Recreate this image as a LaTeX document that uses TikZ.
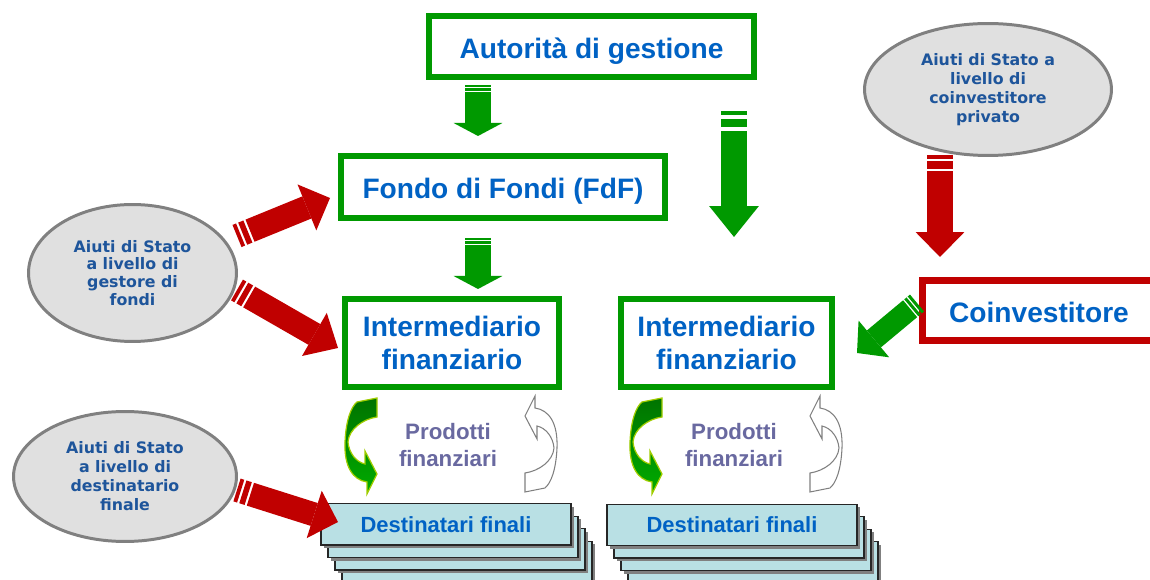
\documentclass[tikz,border=0pt]{standalone}
\usepackage{fontspec}
\setmainfont{Liberation Sans}
\newfontfamily\ellfont{DejaVu Sans}
\usetikzlibrary{arrows.meta,shapes.geometric,shadows,calc}

\definecolor{vert}{RGB}{0,153,0}
\definecolor{rouge}{RGB}{192,0,0}
\definecolor{bleu}{RGB}{0,98,196}
\definecolor{bleuell}{RGB}{30,85,155}
\definecolor{violet}{RGB}{105,105,160}
\definecolor{gris}{RGB}{128,128,128}
\definecolor{grisclair}{RGB}{224,224,224}
\definecolor{turquoise}{RGB}{185,224,228}
\definecolor{vertfonce}{RGB}{0,115,0}
\definecolor{vertclair}{RGB}{0,172,0}
\definecolor{vertjaune}{RGB}{160,205,0}

\tikzset{
  boite/.style={draw=vert, line width=3.4pt, fill=white, text=bleu, align=center,
    inner sep=0pt, font=\bfseries\fontsize{16}{18.7}\selectfont},
  uneligne/.style={text height=15pt, text depth=1.5pt},
  aide/.style={ellipse, draw=gris, line width=1.7pt, fill=grisclair, text=bleuell,
    align=center, inner sep=0pt, font=\ellfont\bfseries\fontsize{9}{10.8}\selectfont},
  destinataire/.style={draw=black!85, line width=0.85pt, fill=turquoise,
    minimum width=5.01cm, minimum height=0.83cm, inner sep=0pt, text=bleu,
    font=\bfseries\fontsize{12.5}{14}\selectfont,
    drop shadow={shadow xshift=1.6pt, shadow yshift=-1.6pt, fill=black!50, opacity=1}},
  produits/.style={text=violet, align=center, font=\bfseries\fontsize{12.7}{15}\selectfont},
  fleche/.style n args={3}{line width=#1, -{Triangle[width=#2, length=#3, line width=0pt]}},
  raies/.style n args={4}{dash pattern=on #1 off #2 on #3 off #4 on 400pt off 1pt},
  courbeverte/.style={draw=vertjaune, line width=0.7pt, top color=vertfonce, bottom color=vertclair},
  courbegrise/.style={draw=gris, line width=0.6pt, fill=white},
  courbe/.pic={
    \path[pic actions] (-94,-43) -- (-74,-47) -- (-74,-28)
      .. controls (-88,-26) and (-102,-16) .. (-103,-3)
      .. controls (-102,8) and (-95,17) .. (-86,19)
      -- (-86,6) -- (-74,29) -- (-84,49) -- (-84,37)
      .. controls (-98,35) and (-107,22) .. (-106,-3)
      .. controls (-105,-25) and (-100,-38) .. (-94,-43) -- cycle;
  }
}

\begin{document}
\begin{tikzpicture}[x=0.02cm, y=-0.02cm]
\useasboundingbox (0,0) rectangle (1150,580);

% Boites du schema
\node[boite, uneligne, minimum width=6.5cm, minimum height=1.22cm] (autorite) at (591.5,46.5) {Autorità di gestione};
\node[boite, uneligne, minimum width=6.48cm, minimum height=1.24cm] (fdf) at (503,187) {Fondo di Fondi (FdF)};
\node[boite, minimum width=4.28cm, minimum height=1.76cm] (intergauche) at (452,343) {Intermediario\\finanziario};
\node[boite, minimum width=4.22cm, minimum height=1.76cm] (interdroite) at (726.5,343) {Intermediario\\finanziario};
\node[boite, uneligne, draw=rouge, line width=3.9pt, minimum width=4.66cm, minimum height=1.2cm] (coinvest) at (1039,310.5) {Coinvestitore};

% Ellipses des aides d'Etat
\node[aide, minimum width=4.94cm, minimum height=2.64cm] (aidecoinv) at (988,89.5) {Aiuti di Stato a\\livello di\\coinvestitore\\privato};
\node[aide, minimum width=4.16cm, minimum height=2.74cm, font=\ellfont\bfseries\fontsize{9}{10.2}\selectfont] (aidegest) at (132.5,273) {Aiuti di Stato\\a livello di\\gestore di\\fondi};
\node[aide, minimum width=4.46cm, minimum height=2.6cm] (aidedest) at (125,476.5) {Aiuti di Stato\\a livello di\\destinatario\\finale};

% Piles des destinataires finaux
\foreach \i in {3,2,1} {
  \node[destinataire] (destgauche\i) at ($(446,524.5)+(7*\i,12.5*\i)$) {};
  \node[destinataire] (destdroite\i) at ($(732,525)+(7*\i,12.5*\i)$) {};
}
\node[destinataire] (destgauche) at (446,524.5) {Destinatari finali};
\node[destinataire] (destdroite) at (732,525) {Destinatari finali};

% Prodotti finanziari
\pic[courbeverte] at (451,445) {courbe};
\pic[courbegrise, rotate=180] at (451,445) {courbe};
\pic[courbeverte] at (736,445) {courbe};
\pic[courbegrise, rotate=180] at (736,445) {courbe};
\node[produits] (prodgauche) at (448,445) {Prodotti\\finanziari};
\node[produits] (proddroite) at (734,445) {Prodotti\\finanziari};

% Extremites des fleches
\coordinate (v1a) at (478,85);  \coordinate (v1b) at (478,136);
\coordinate (v2a) at (478,238); \coordinate (v2b) at (478,289);
\coordinate (v3a) at (734,111); \coordinate (v3b) at (734,237);
\coordinate (v4a) at (917,303); \coordinate (v4b) at (857,353);
\coordinate (r1a) at (940,155); \coordinate (r1b) at (940,257);
\coordinate (r2a) at (237,236); \coordinate (r2b) at (330,198);
\coordinate (r3a) at (237,290); \coordinate (r3b) at (338,348);
\coordinate (r4a) at (237,490); \coordinate (r4b) at (338,522);

% Fleches vertes
\draw[fleche={14.7pt}{27.8pt}{7.4pt}, vert, raies={1.1pt}{0.85pt}{1.4pt}{0.85pt}] (v1a) -- (v1b);
\draw[fleche={14.7pt}{27.8pt}{7.4pt}, vert, raies={1.1pt}{0.85pt}{1.4pt}{0.85pt}] (v2a) -- (v2b);
\draw[fleche={14.7pt}{28.3pt}{17.6pt}, vert, raies={2.3pt}{2.3pt}{4.5pt}{2.3pt}] (v3a) -- (v3b);
\draw[fleche={12.5pt}{27.2pt}{12.5pt}, vert, raies={1.7pt}{0.85pt}{1.7pt}{0.85pt}] (v4a) -- (v4b);

% Fleches rouges
\draw[fleche={14.7pt}{27.8pt}{14.2pt}, rouge, raies={2.3pt}{1pt}{4.4pt}{1.5pt}] (r1a) -- (r1b);
\draw[fleche={13.6pt}{28.3pt}{14.2pt}, rouge, raies={2.2pt}{1.3pt}{3.2pt}{1.3pt}] (r2a) -- (r2b);
\draw[fleche={13.6pt}{28.3pt}{15.5pt}, rouge, raies={2.2pt}{1.3pt}{3.2pt}{1.3pt}] (r3a) -- (r3b);
\draw[fleche={13.6pt}{28.3pt}{14.2pt}, rouge, raies={2.2pt}{1.3pt}{3.2pt}{1.3pt}] (r4a) -- (r4b);

\end{tikzpicture}
\end{document}
